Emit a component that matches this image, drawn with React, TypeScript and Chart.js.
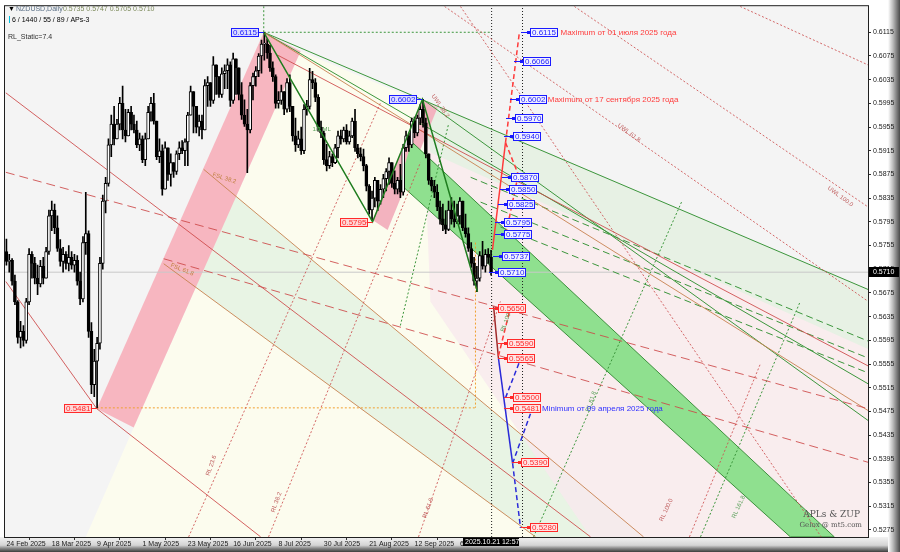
import { useEffect, useRef } from 'react';
import { Chart, registerables } from 'chart.js';

Chart.register(...registerables);

// ---------- axis data ----------
const dateLabels = ['24 Feb 2025', '18 Mar 2025', '9 Apr 2025', '1 May 2025', '23 May 2025', '16 Jun 2025', '8 Jul 2025', '30 Jul 2025', '21 Aug 2025', '12 Sep 2025', '6 Oct 2025'];
const dateTickBars = [0, 16, 32, 48, 64, 80, 96, 112, 128, 144, 160];
const priceTicks = [0.6115, 0.6075, 0.6035, 0.5995, 0.5955, 0.5915, 0.5875, 0.5835, 0.5795, 0.5755, 0.5715, 0.5675, 0.5635, 0.5595, 0.5555, 0.5515, 0.5475, 0.5435, 0.5395, 0.5355, 0.5315, 0.5275];

// ---------- candles (daily NZDUSD, bar 0 = 24 Feb 2025) ----------
const firstOpen = 0.5745;
const closes = [
  0.5728, 0.5730, 0.5695, 0.5660, 0.5600, 0.5610, 0.5595, 0.5660, 0.5740, 0.5725,
  0.5700, 0.5690, 0.5720, 0.5700, 0.5745, 0.5805, 0.5815, 0.5785, 0.5750, 0.5728,
  0.5740, 0.5725, 0.5735, 0.5722, 0.5730, 0.5695, 0.5665, 0.5760, 0.5775, 0.5610,
  0.5520, 0.5560, 0.5590, 0.5725, 0.5830, 0.5860, 0.5925, 0.5960, 0.5935, 0.5960,
  0.5995, 0.5950, 0.5940, 0.5980, 0.5960, 0.5950, 0.5925, 0.5935, 0.5900, 0.5935,
  0.5980, 0.5995, 0.5965, 0.5905, 0.5915, 0.5850, 0.5920, 0.5875, 0.5895, 0.5880,
  0.5910, 0.5920, 0.5915, 0.5930, 0.5975, 0.6015, 0.5990, 0.5955, 0.5965, 0.5950,
  0.6025, 0.6030, 0.6000, 0.6060, 0.6040, 0.6010, 0.6045, 0.6050, 0.6060, 0.6000,
  0.6070, 0.6055, 0.6010, 0.5975, 0.5960, 0.5950, 0.6025, 0.6040, 0.6050, 0.6075,
  0.6095, 0.6095, 0.6080, 0.6055, 0.6040, 0.5995, 0.6000, 0.6015, 0.5985, 0.6030,
  0.5990, 0.5940, 0.5925, 0.5935, 0.5915, 0.5985, 0.5990, 0.6035, 0.6030, 0.6005,
  0.5955, 0.5945, 0.5900, 0.5890, 0.5905, 0.5895, 0.5920, 0.5940, 0.5935, 0.5950,
  0.5930, 0.5940, 0.5965, 0.5920, 0.5910, 0.5905, 0.5890, 0.5855, 0.5815, 0.5835,
  0.5865, 0.5830, 0.5850, 0.5868, 0.5880, 0.5895, 0.5860, 0.5850, 0.5865, 0.5845,
  0.5920, 0.5940, 0.5925, 0.5965, 0.5945, 0.5970, 0.5985, 0.5962, 0.5910, 0.5865,
  0.5855, 0.5845, 0.5820, 0.5800, 0.5790, 0.5782, 0.5815, 0.5800, 0.5795, 0.5805,
  0.5830, 0.5785, 0.5775, 0.5750, 0.5725, 0.5695, 0.5700, 0.5738, 0.5720, 0.5740,
  0.5735, 0.5710,
];
const highs = [
  0.5766, 0.5740, 0.5733, 0.5705, 0.5662, 0.5627, 0.5620, 0.5666, 0.5750, 0.5745,
  0.5735, 0.5722, 0.5730, 0.5735, 0.5752, 0.5815, 0.5830, 0.5825, 0.5805, 0.5765,
  0.5752, 0.5745, 0.5755, 0.5745, 0.5740, 0.5738, 0.5710, 0.5770, 0.5845, 0.5780,
  0.5625, 0.5580, 0.5600, 0.5735, 0.5840, 0.5870, 0.5935, 0.5975, 0.5990, 0.5968,
  0.6005, 0.6024, 0.5985, 0.5985, 0.5990, 0.5975, 0.5965, 0.5945, 0.5940, 0.5945,
  0.5990, 0.6005, 0.6012, 0.5950, 0.5935, 0.5925, 0.5930, 0.5920, 0.5910, 0.5895,
  0.5915, 0.5930, 0.5932, 0.5935, 0.5980, 0.6024, 0.6001, 0.5965, 0.5975, 0.5975,
  0.6035, 0.6040, 0.6030, 0.6074, 0.6046, 0.6035, 0.6055, 0.6060, 0.6070, 0.6065,
  0.6080, 0.6065, 0.6052, 0.6030, 0.6001, 0.5985, 0.6030, 0.6046, 0.6057, 0.6079,
  0.6102, 0.6115, 0.6104, 0.6093, 0.6065, 0.6043, 0.6015, 0.6026, 0.6010, 0.6037,
  0.6043, 0.5990, 0.5970, 0.5948, 0.5955, 0.5993, 0.6000, 0.6054, 0.6049, 0.6037,
  0.6010, 0.5965, 0.5948, 0.5926, 0.5914, 0.5910, 0.5926, 0.5948, 0.5950, 0.5955,
  0.5959, 0.5948, 0.5970, 0.5985, 0.5926, 0.5920, 0.5918, 0.5892, 0.5858, 0.5847,
  0.5870, 0.5858, 0.5858, 0.5875, 0.5885, 0.5903, 0.5892, 0.5881, 0.5870, 0.5892,
  0.5926, 0.5948, 0.5945, 0.5970, 0.5972, 0.5975, 0.5993, 0.6002, 0.5970, 0.5903,
  0.5870, 0.5865, 0.5858, 0.5830, 0.5825, 0.5814, 0.5830, 0.5836, 0.5830, 0.5825,
  0.5836, 0.5825, 0.5808, 0.5785, 0.5760, 0.5735, 0.5720, 0.5745, 0.5762, 0.5748,
  0.5750, 0.5747,
];
const lows = [
  0.5722, 0.5710, 0.5688, 0.5655, 0.5590, 0.5582, 0.5585, 0.5590, 0.5655, 0.5700,
  0.5690, 0.5672, 0.5685, 0.5690, 0.5700, 0.5740, 0.5780, 0.5775, 0.5745, 0.5720,
  0.5710, 0.5715, 0.5712, 0.5715, 0.5710, 0.5688, 0.5655, 0.5660, 0.5740, 0.5600,
  0.5505, 0.5500, 0.5481, 0.5580, 0.5715, 0.5810, 0.5855, 0.5905, 0.5925, 0.5940,
  0.5950, 0.5935, 0.5930, 0.5945, 0.5950, 0.5945, 0.5920, 0.5915, 0.5895, 0.5890,
  0.5935, 0.5965, 0.5960, 0.5900, 0.5895, 0.5840, 0.5850, 0.5865, 0.5855, 0.5870,
  0.5875, 0.5900, 0.5910, 0.5890, 0.5890, 0.5975, 0.5945, 0.5945, 0.5940, 0.5935,
  0.5950, 0.5990, 0.5990, 0.5995, 0.6010, 0.6005, 0.6005, 0.6020, 0.6020, 0.5990,
  0.5995, 0.6010, 0.6001, 0.5968, 0.5956, 0.5878, 0.5945, 0.6001, 0.6024, 0.6040,
  0.6046, 0.6068, 0.6071, 0.6049, 0.6032, 0.5987, 0.5987, 0.5993, 0.5976, 0.5980,
  0.5981, 0.5931, 0.5914, 0.5920, 0.5909, 0.5910, 0.5975, 0.5985, 0.6020, 0.5998,
  0.5948, 0.5937, 0.5892, 0.5881, 0.5885, 0.5888, 0.5893, 0.5903, 0.5926, 0.5930,
  0.5926, 0.5926, 0.5937, 0.5914, 0.5903, 0.5898, 0.5881, 0.5847, 0.5808, 0.5797,
  0.5820, 0.5814, 0.5825, 0.5836, 0.5847, 0.5858, 0.5853, 0.5842, 0.5842, 0.5836,
  0.5840, 0.5914, 0.5914, 0.5920, 0.5937, 0.5940, 0.5959, 0.5955, 0.5903, 0.5858,
  0.5847, 0.5836, 0.5814, 0.5791, 0.5780, 0.5775, 0.5780, 0.5791, 0.5786, 0.5792,
  0.5791, 0.5780, 0.5769, 0.5745, 0.5718, 0.5688, 0.5677, 0.5695, 0.5715, 0.5710,
  0.5725, 0.5705,
];
const lastPrice = 0.5710;

// ---------- shaded zones, [bar, price] corners ----------
const creamZone = [[103.8, 0.60831], [304.1, 0.56807], [304.1, 0.52632], [28.0, 0.52632], [44.9, 0.54477]];
const greenStripZone = [[69.6, 0.58836], [224.8, 0.52632], [186.7, 0.52632], [55.5, 0.57243]];
const pinkZone = [[146.8, 0.6002], [304.1, 0.56807], [304.1, 0.52632], [206.1, 0.52632], [149.6, 0.56606]];
const greenWedgeZone = [[146.8, 0.6002], [304.1, 0.56807], [304.1, 0.5580], [149.6, 0.59121]];
const pinkBand = [[31.9, 0.54795], [90.8, 0.6115], [103.8, 0.60831], [44.9, 0.54477]];
const smallPinkBand = [[129.2, 0.57981], [146.8, 0.6001], [152.1, 0.59876], [134.5, 0.57813]];
const greenBand = [[143.0, 0.59300], [292.1, 0.52632], [276.6, 0.52632], [138.6, 0.58600]];

// ---------- lines [bar1, price1, bar2, price2] ----------
const greenSolidLines = [[90.8, 0.6115, 304.1, 0.56807], [90.8, 0.6115, 304.1, 0.55214], [146.8, 0.6002, 304.1, 0.54594]];
const zigzagBars = [90.8, 129.2, 146.8, 166.2];
const zigzagPrices = [0.6115, 0.5795, 0.6002, 0.5677];
const brownLines = [[90.8, 0.6115, 304.1, 0.54762], [55.5, 0.57243, 186.7, 0.52632], [69.6, 0.58836, 224.8, 0.52632]];
const greenDashedLines = [[163.8, 0.58702, 304.1, 0.55936], [167.3, 0.58283, 304.1, 0.5565], [174.3, 0.57864, 304.1, 0.55399]];
const redSolidLines = [[-0.2, 0.60127, 206.1, 0.52632], [-0.2, 0.56942, 31.9, 0.54795], [95.7, 0.60764, 304.1, 0.55516], [31.9, 0.54795, 89.7, 0.52632]];
const redDashedLines = [[-0.2, 0.58786, 304.1, 0.54795], [55.5, 0.57327, 304.1, 0.5389]];
const redDottedLines = [[64.3, 0.52632, 132, 0.5996], [92.5, 0.52632, 146.1, 0.58954], [145.4, 0.52632, 174.3, 0.56606], [241, 0.52632, 266, 0.5555], [160.2, 0.61586, 287.5, 0.52632], [200.4, 0.61586, 304.1, 0.58199], [258.9, 0.61586, 304.1, 0.60597], [154.6, 0.61586, 304.1, 0.56606]];
const greenDottedLines = [[186, 0.52632, 238.2, 0.58283], [244.9, 0.52632, 280.1, 0.56606], [139, 0.5620, 156, 0.5960]];
const cursorBars = [171.2, 182.1];
const orangeDotted = [[165.5, 0.576, 165.5, 0.5481], [31.9, 0.5481, 165.5, 0.5481]];
const greenPivotDotted = [[90.8, 0.6159, 90.8, 0.6115], [90.8, 0.6115, 171.2, 0.6115]];
const projRedSolid = [[171.5, 0.57478, 176.1, 0.59289]];
const projRedDashed = [[176.1, 0.59289, 181, 0.6115], [176.1, 0.59289, 180.6, 0.5875], [180.6, 0.5875, 176.1, 0.5771], [173.6, 0.55684, 177.5, 0.56439]];
const projDarkRed = [[171.9, 0.56522, 173.6, 0.55651]];
const projBlueSolid = [[173.6, 0.55651, 178.6, 0.53873]];
const projBlueDashed = [[178.6, 0.53873, 181.4, 0.52783], [178.6, 0.53873, 184.9, 0.54711], [176.1, 0.5498, 181, 0.55583]];

// ---------- price tags ----------
const blueTagPrices = [0.6115, 0.6066, 0.6002, 0.597, 0.594, 0.587, 0.585, 0.5825, 0.5795, 0.5775, 0.5737, 0.571];
const blueTagBars = [184.9, 182.4, 180.7, 179.6, 178.9, 177.9, 177.5, 176.5, 175.7, 175.7, 174.7, 173.6];
const redTagPrices = [0.565, 0.559, 0.5565, 0.55, 0.5481, 0.539, 0.528];
const redTagBars = [173.6, 176.8, 176.8, 178.9, 178.9, 181.4, 184.6];
const pivotTagPrices = [0.6115, 0.6002, 0.5795, 0.5481];
const pivotTagBars = [90.8, 146.8, 129.2, 31.9];
const pivotTagIsHigh = [true, true, false, false];
const notes = [
  { text: 'Maximum от 01 июля 2025 года', bar: 195.5, price: 0.6115, color: '#ff3b3b' },
  { text: 'Maximum от 17 сентября 2025 года', bar: 191, price: 0.6002, color: '#ff3b3b' },
  { text: 'Minimum от 09 апреля 2025 года', bar: 189, price: 0.5481, color: '#3030ff' },
];
const lineTexts = [
  { text: 'UWL 38.2', bar: 150.4, price: 0.6009, angle: 55, color: '#c06060' },
  { text: 'UWL 61.8', bar: 215.9, price: 0.5959, angle: 37, color: '#c06060' },
  { text: 'UWL 100.0', bar: 290, price: 0.5853, angle: 37, color: '#c06060' },
  { text: 'FSL 38.2', bar: 72.8, price: 0.5875, angle: 18, color: '#c08040' },
  { text: 'FSL 61.8', bar: 58, price: 0.5722, angle: 22, color: '#c08040' },
  { text: '1/2 ML', bar: 108, price: 0.5951, angle: 0, color: '#5aa05a' },
  { text: 'RL 23.6', bar: 71, price: 0.5367, angle: -70, color: '#c06060' },
  { text: 'RL 38.2', bar: 94, price: 0.5305, angle: -70, color: '#c06060' },
  { text: 'RL 61.8', bar: 147.5, price: 0.5295, angle: -70, color: '#c06060' },
  { text: 'RL 100.0', bar: 175, price: 0.5610, angle: -70, color: '#5aa05a' },
  { text: 'RL 61.8', bar: 205, price: 0.5475, angle: -70, color: '#5aa05a' },
  { text: 'RL 100.0', bar: 231, price: 0.5290, angle: -65, color: '#c06060' },
  { text: 'RL 161.8', bar: 256.5, price: 0.5295, angle: -65, color: '#5aa05a' },
];

const FONT = '"Liberation Sans", Arial, sans-serif';

function segs(list: number[][], color: string, width: number, dash: number[], order: number) {
  return list.map((s) => ({
    type: 'line' as const,
    data: [{ x: s[0], y: s[1] }, { x: s[2], y: s[3] }],
    borderColor: color,
    borderWidth: width,
    borderDash: dash,
    pointRadius: 0,
    fill: false,
    tension: 0,
    order,
  }));
}

function poly(pts: number[][], color: string, order: number, border = 'rgba(0,0,0,0)', bw = 0) {
  return {
    type: 'line' as const,
    data: pts.map((p) => ({ x: p[0], y: p[1] })),
    backgroundColor: color,
    borderColor: border,
    borderWidth: bw,
    pointRadius: 0,
    fill: 'shape',
    tension: 0,
    order,
  };
}

const chromePlugin = {
  id: 'chrome',
  beforeDraw(chart: any) {
    const { ctx, chartArea: a, width, height } = chart;
    ctx.save();
    ctx.fillStyle = '#ffffff';
    ctx.fillRect(0, 0, width, height);
    const g = ctx.createLinearGradient(0, a.bottom, 0, height);
    g.addColorStop(0, '#f2f2f2');
    g.addColorStop(0.55, '#d4d4d4');
    g.addColorStop(0.75, '#8a8a8a');
    g.addColorStop(1, '#3c3c3c');
    ctx.fillStyle = g;
    ctx.fillRect(0, a.bottom, width, height - a.bottom);
    const g2 = ctx.createLinearGradient(888, 0, width, 0);
    g2.addColorStop(0, '#ffffff');
    g2.addColorStop(0.4, '#bdbdbd');
    g2.addColorStop(1, '#4a4a4a');
    ctx.fillStyle = g2;
    ctx.fillRect(888, 0, width - 888, height);
    ctx.fillStyle = '#f4f4f4';
    ctx.fillRect(a.left, a.top, a.right - a.left, a.bottom - a.top);
    ctx.restore();
  },
  afterDatasetsDraw(chart: any) {
    const { ctx, chartArea: a } = chart;
    const x = chart.scales.x;
    const y = chart.scales.y;
    ctx.save();
    ctx.beginPath();
    ctx.rect(a.left, a.top, a.right - a.left, a.bottom - a.top);
    ctx.clip();

    ctx.font = `6px ${FONT}`;
    ctx.textBaseline = 'middle';
    ctx.textAlign = 'left';
    for (const t of lineTexts) {
      ctx.save();
      ctx.translate(x.getPixelForValue(t.bar), y.getPixelForValue(t.price));
      ctx.rotate((t.angle * Math.PI) / 180);
      ctx.fillStyle = t.color;
      ctx.fillText(t.text, 0, 0);
      ctx.restore();
    }

    const tag = (px: number, py: number, text: string, stroke: string, fill: string, color: string, markerLeft: boolean) => {
      ctx.font = `8px ${FONT}`;
      const w = Math.round(ctx.measureText(text).width) + 3;
      const top = Math.round(py) - 4;
      const left = Math.round(px);
      ctx.fillStyle = fill;
      ctx.fillRect(left, top, w, 8);
      ctx.strokeStyle = stroke;
      ctx.lineWidth = 1;
      ctx.strokeRect(left + 0.5, top + 0.5, w, 8);
      ctx.fillStyle = color;
      ctx.textBaseline = 'middle';
      ctx.textAlign = 'left';
      ctx.fillText(text, left + 2, top + 4.5);
      ctx.beginPath();
      if (markerLeft) {
        ctx.moveTo(left - 9, top + 4.5);
        ctx.lineTo(left, top + 4.5);
        ctx.stroke();
        ctx.fillStyle = stroke;
        ctx.fillRect(left - 3, top + 3, 3, 3);
      }
      return w;
    };

    blueTagPrices.forEach((p, i) => {
      tag(x.getPixelForValue(blueTagBars[i]), y.getPixelForValue(p), p.toFixed(4), '#1a1aff', '#f0f0ff', '#1a1aff', true);
    });
    redTagPrices.forEach((p, i) => {
      tag(x.getPixelForValue(redTagBars[i]), y.getPixelForValue(p), p.toFixed(4), '#ff2a2a', '#ffe4e4', '#ff2a2a', true);
    });
    pivotTagPrices.forEach((p, i) => {
      const px = x.getPixelForValue(pivotTagBars[i]);
      const py = y.getPixelForValue(p);
      const hi = pivotTagIsHigh[i];
      ctx.font = `8px ${FONT}`;
      const w = Math.round(ctx.measureText(p.toFixed(4)).width) + 3;
      const stroke = hi ? '#1a1aff' : '#ff2a2a';
      tag(px - w - 6, py, p.toFixed(4), stroke, hi ? '#dcdcff' : '#ffd6d6', stroke, false);
      ctx.strokeStyle = stroke;
      ctx.beginPath();
      ctx.moveTo(px - 6, Math.round(py) + 0.5);
      ctx.lineTo(px, Math.round(py) + 0.5);
      ctx.stroke();
    });

    ctx.font = `8px ${FONT}`;
    ctx.textBaseline = 'middle';
    for (const n of notes) {
      ctx.fillStyle = n.color;
      ctx.fillText(n.text, x.getPixelForValue(n.bar), Math.round(y.getPixelForValue(n.price)) + 0.5);
    }

    ctx.fillStyle = '#555555';
    ctx.textAlign = 'right';
    ctx.font = `9px "DejaVu Serif", serif`;
    ctx.fillText('APLs & ZUP', 860, 515);
    ctx.font = `7px "DejaVu Serif", serif`;
    ctx.fillText('Gelox @ mt5.com', 862, 525);

    ctx.textAlign = 'left';
    ctx.font = `7px ${FONT}`;
    ctx.fillStyle = '#000000';
    ctx.fillText('▼', 8, 9);
    ctx.fillStyle = '#5a6f86';
    ctx.fillText('NZDUSD,Daily', 16, 9);
    ctx.fillStyle = '#7c8a5a';
    ctx.fillText('0.5735 0.5747 0.5705 0.5710', 63, 9);
    ctx.fillStyle = '#00c0e0';
    ctx.fillRect(9, 16, 1, 7);
    ctx.fillStyle = '#000000';
    ctx.fillText('6 / 1440 / 55 / 89 / APs-3', 12, 20);
    ctx.fillStyle = '#303030';
    ctx.fillText('RL_Static=7.4', 8, 37);
    ctx.restore();
  },
  afterDraw(chart: any) {
    const { ctx, chartArea: a } = chart;
    const x = chart.scales.x;
    const y = chart.scales.y;
    ctx.save();
    ctx.strokeStyle = '#202020';
    ctx.lineWidth = 1;
    ctx.strokeRect(a.left - 0.5, a.top - 0.5, a.right - a.left + 1, a.bottom - a.top + 1);
    const py = Math.round(y.getPixelForValue(lastPrice));
    ctx.fillStyle = '#000000';
    ctx.fillRect(a.right + 1, py - 5, 30, 10);
    ctx.fillStyle = '#ffffff';
    ctx.font = `7px ${FONT}`;
    ctx.textBaseline = 'middle';
    ctx.textAlign = 'left';
    ctx.fillText(lastPrice.toFixed(4), a.right + 5, py + 0.5);
    const cx = Math.round(x.getPixelForValue(cursorBars[0]));
    ctx.fillStyle = '#000000';
    ctx.fillRect(cx - 29, a.bottom + 1, 56, 8);
    ctx.fillStyle = '#ffffff';
    ctx.fillText('2025.10.21 12:57', cx - 27, a.bottom + 5.5);
    ctx.restore();
  },
};

export default function App() {
  const ref = useRef<HTMLCanvasElement | null>(null);
  useEffect(() => {
    if (!ref.current) return;
    const opens = closes.map((c, i) => (i === 0 ? firstOpen : closes[i - 1]));
    const wickData = closes.map((c, i) => ({ x: i, y: [Math.min(lows[i], opens[i], c), Math.max(highs[i], opens[i], c)] }));
    const bodyData = closes.map((c, i) => ({ x: i, y: [opens[i], c] }));
    const bodyColors = closes.map((c, i) => (c >= opens[i] ? '#ffffff' : '#000000'));

    const datasets: any[] = [
      poly(creamZone, '#fcfcee', 100),
      poly(greenStripZone, 'rgba(228,242,226,0.85)', 99),
      poly(pinkZone, 'rgba(248,232,238,0.8)', 98),
      poly(greenWedgeZone, 'rgba(224,242,224,0.7)', 97),
      poly(pinkBand, '#f7b6c0', 96),
      poly(smallPinkBand, '#f3b3bf', 95),
      poly(greenBand, '#8fe08f', 94, '#3d8f3d', 1),
      ...segs([[-0.5, lastPrice, 304.5, lastPrice]], '#c8c8c8', 1, [], 90),
      ...segs(redSolidLines, 'rgba(205,70,70,0.85)', 1, [], 60),
      ...segs(redDashedLines, 'rgba(205,70,70,0.85)', 1, [9, 5], 60),
      ...segs(redDottedLines, 'rgba(205,80,80,0.85)', 1, [2, 2], 60),
      ...segs(brownLines, 'rgba(200,130,80,0.9)', 1, [], 60),
      ...segs(greenSolidLines, '#3c963c', 1, [], 60),
      ...segs(greenDashedLines, '#3c963c', 1, [7, 4], 60),
      ...segs(greenDottedLines, '#3c963c', 1, [2, 2], 60),
      ...segs(orangeDotted, '#f0a030', 1, [2, 2], 60),
      ...segs(greenPivotDotted, '#3c963c', 1, [2, 2], 60),
      ...segs(cursorBars.map((b) => [b, 0.5263, b, 0.6159]), '#202020', 1, [1, 2], 60),
      {
        type: 'bar',
        data: wickData,
        backgroundColor: '#000000',
        barThickness: 1,
        grouped: false,
        order: 52,
      },
      {
        type: 'bar',
        data: bodyData,
        backgroundColor: bodyColors,
        borderColor: '#000000',
        borderWidth: 1,
        borderSkipped: false,
        barThickness: 3,
        minBarLength: 1,
        grouped: false,
        order: 51,
      },
      {
        type: 'line',
        data: zigzagBars.map((b, i) => ({ x: b, y: zigzagPrices[i] })),
        borderColor: '#1f7d1f',
        borderWidth: 1.5,
        pointRadius: 0,
        fill: false,
        tension: 0,
        order: 30,
      },
      ...segs(projRedSolid, '#ff3a3a', 1.5, [], 20),
      ...segs(projRedDashed, '#ff3a3a', 1.5, [5, 3], 20),
      ...segs(projDarkRed, '#a02a2a', 1.5, [], 20),
      ...segs(projBlueSolid, '#2a2ad8', 1.5, [], 20),
      ...segs(projBlueDashed, '#2a2ad8', 1.5, [5, 3], 20),
    ];

    const chart = new Chart(ref.current, {
      type: 'line',
      data: { datasets },
      plugins: [chromePlugin],
      options: {
        responsive: false,
        animation: false,
        events: [],
        devicePixelRatio: 1,
        layout: { padding: { left: 5, top: 3, right: 0, bottom: 0 } },
        plugins: { legend: { display: false }, tooltip: { enabled: false } },
        scales: {
          x: {
            type: 'linear',
            min: -0.5,
            max: 304,
            offset: false,
            position: 'bottom',
            afterBuildTicks: (s: any) => {
              s.ticks = dateTickBars.map((v) => ({ value: v }));
            },
            afterFit: (s: any) => {
              s.height = 15;
            },
            grid: { drawOnChartArea: false, tickLength: 3, color: '#303030' },
            border: { display: true, color: '#202020' },
            ticks: {
              autoSkip: false,
              maxRotation: 0,
              minRotation: 0,
              align: 'start',
              padding: 0,
              color: '#202020',
              font: { family: FONT, size: 7 },
              callback: (v: any) => {
                const k = dateTickBars.indexOf(Number(v));
                return k >= 0 ? dateLabels[k] : '';
              },
            },
          },
          y: {
            type: 'linear',
            position: 'right',
            min: 0.5263,
            max: 0.6159,
            afterBuildTicks: (s: any) => {
              s.ticks = priceTicks.map((v) => ({ value: v }));
            },
            afterFit: (s: any) => {
              s.width = 32;
            },
            grid: { drawOnChartArea: false, tickLength: 3, color: '#303030' },
            border: { display: true, color: '#202020' },
            ticks: {
              padding: 2,
              color: '#202020',
              font: { family: FONT, size: 7 },
              callback: (v: any) => Number(v).toFixed(4),
            },
          },
        },
      } as any,
    });
    return () => chart.destroy();
  }, []);

  return (
    <div style={{ position: 'fixed', left: 0, top: 0, width: 900, height: 552 }}>
      <canvas ref={ref} width={900} height={552} style={{ width: 900, height: 552, display: 'block' }} />
    </div>
  );
}
